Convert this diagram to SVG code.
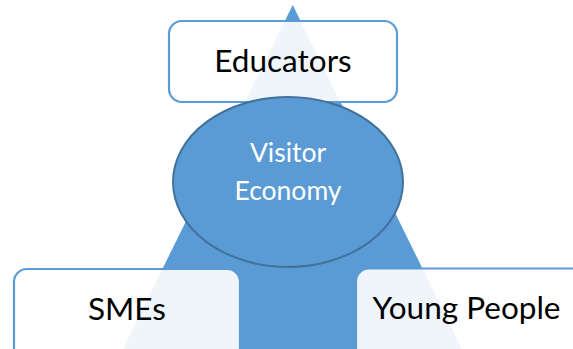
<svg xmlns="http://www.w3.org/2000/svg" width="573" height="349" viewBox="0 0 573 349">
<style>
.box{fill:#ffffff;fill-opacity:0.9;stroke:#5B9BD5;stroke-width:2.2}
.lbl{font-family:Lato,"Liberation Sans",sans-serif;font-size:31.5px;fill:#000000;text-anchor:middle}
.wl{font-family:Lato,"Liberation Sans",sans-serif;font-size:26.5px;fill:#ffffff;text-anchor:middle}
</style>
<rect width="573" height="349" fill="#ffffff"/>
<g id="triangle"><polygon points="292.7,5 115,365 470,365" fill="#5B9BD5"/></g>
<g id="connectors"></g>
<g id="educators"><rect class="box" x="169" y="21" width="228" height="81" rx="13"/><text class="lbl" x="283" y="72">Educators</text></g>
<g id="smes"><rect class="box" x="14" y="269" width="226" height="100" rx="13"/><text class="lbl" x="127" y="320">SMEs</text></g>
<g id="young-people"><rect class="box" x="356" y="268.5" width="240" height="100" rx="13"/><text class="lbl" x="466.5" y="319">Young People</text></g>
<g id="visitor-economy"><ellipse cx="288" cy="182" rx="115" ry="85" fill="#5B9BD5" stroke="#41719C" stroke-width="2"/><text class="wl" x="288" y="162">Visitor</text><text class="wl" x="288" y="200">Economy</text></g>
</svg>
